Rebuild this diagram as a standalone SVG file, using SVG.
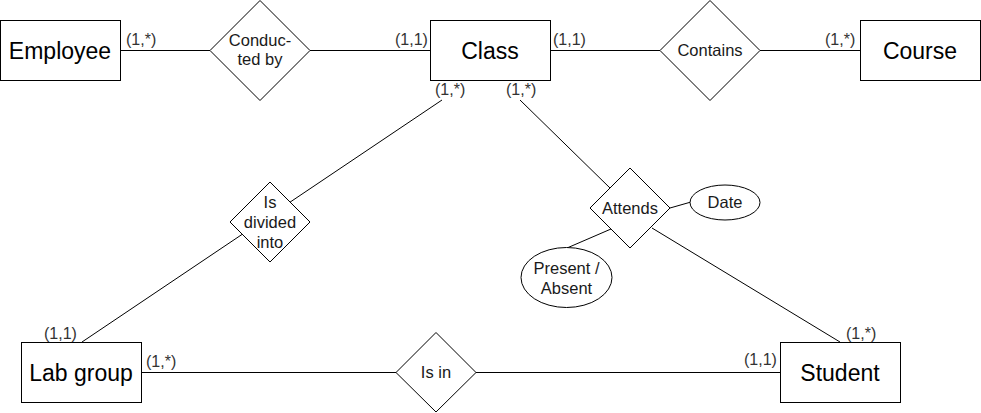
<svg xmlns="http://www.w3.org/2000/svg" width="981" height="413" viewBox="0 0 981 413">
<style>
.ent{fill:#fff;stroke:#000;stroke-width:1}
.rel{fill:#fff;stroke:#000;stroke-width:1}
.attr{fill:#fff;stroke:#000;stroke-width:1}
.et{font-family:"Liberation Sans",Arial,sans-serif;font-size:23px;fill:#000;text-anchor:middle}
.rt{font-family:"Liberation Sans",Arial,sans-serif;font-size:16.5px;fill:#1a1a1a;text-anchor:middle}
.lb{font-family:"Liberation Sans",Arial,sans-serif;font-size:16px;fill:#333}
.cn{stroke:#000;stroke-width:1;fill:none}
</style>
<rect width="981" height="413" fill="#fff"/>
<g id="connectors">
<line class="cn" x1="120" y1="50.5" x2="210" y2="50.5"/>
<line class="cn" x1="310" y1="50.5" x2="430" y2="50.5"/>
<line class="cn" x1="550" y1="50.5" x2="660" y2="50.5"/>
<line class="cn" x1="760" y1="50.5" x2="860" y2="50.5"/>
<line class="cn" x1="82" y1="342" x2="442" y2="100"/>
<line class="cn" x1="520" y1="100" x2="610" y2="188"/>
<line class="cn" x1="652" y1="228" x2="840" y2="342"/>
<line class="cn" x1="670" y1="208" x2="691" y2="202"/>
<line class="cn" x1="611" y1="229" x2="567" y2="248"/>
<line class="cn" x1="141" y1="372.5" x2="396" y2="372.5"/>
<line class="cn" x1="476" y1="372.5" x2="780" y2="372.5"/>
<g id="labels">
<text class="lb" x="126" y="45">(1,*)</text>
<text class="lb" x="395" y="45">(1,1)</text>
<text class="lb" x="553" y="45">(1,1)</text>
<text class="lb" x="825" y="45">(1,*)</text>
<text class="lb" x="435" y="95">(1,*)</text>
<text class="lb" x="506" y="95">(1,*)</text>
<text class="lb" x="44" y="339">(1,1)</text>
<text class="lb" x="146" y="367">(1,*)</text>
<text class="lb" x="744" y="365">(1,1)</text>
<text class="lb" x="846" y="339">(1,*)</text>
</g>
</g>
<g id="employee">
<rect class="ent" x="0.5" y="20.5" width="120" height="60"/>
<text class="et" x="60" y="58.5">Employee</text>
</g>
<g id="class">
<rect class="ent" x="430.5" y="20.5" width="120" height="60"/>
<text class="et" x="490" y="58.5">Class</text>
</g>
<g id="course">
<rect class="ent" x="860.5" y="20.5" width="120" height="60"/>
<text class="et" x="920" y="58.5">Course</text>
</g>
<g id="labgroup">
<rect class="ent" x="21.5" y="342.5" width="120" height="60"/>
<text class="et" x="81" y="381">Lab group</text>
</g>
<g id="student">
<rect class="ent" x="780.5" y="342.5" width="120" height="60"/>
<text class="et" x="840" y="381">Student</text>
</g>
<g id="conducted-by">
<polygon class="rel" points="260,0.5 310,50.5 260,100.5 210,50.5"/>
<text class="rt" x="260" y="46">Conduc-</text>
<text class="rt" x="260" y="65">ted by</text>
</g>
<g id="contains">
<polygon class="rel" points="710,0.5 760,50.5 710,100.5 660,50.5"/>
<text class="rt" x="710" y="56">Contains</text>
</g>
<g id="is-divided-into">
<polygon class="rel" points="270,182 310,222 270,262 230,222"/>
<text class="rt" x="270" y="208">Is</text>
<text class="rt" x="270" y="228">divided</text>
<text class="rt" x="270" y="248">into</text>
</g>
<g id="attends">
<polygon class="rel" points="630,168 670,208 630,248 590,208"/>
<text class="rt" x="630" y="214">Attends</text>
</g>
<g id="is-in">
<polygon class="rel" points="436,332.5 476,372.5 436,412 396,372.5"/>
<text class="rt" x="436" y="378">Is in</text>
</g>
<g id="date">
<ellipse class="attr" cx="725" cy="202.5" rx="35" ry="17.5"/>
<text class="rt" x="725" y="208">Date</text>
</g>
<g id="present-absent">
<ellipse class="attr" cx="566.5" cy="277.5" rx="45.5" ry="30"/>
<text class="rt" x="566.5" y="274">Present /</text>
<text class="rt" x="566.5" y="294">Absent</text>
</g>
</svg>
